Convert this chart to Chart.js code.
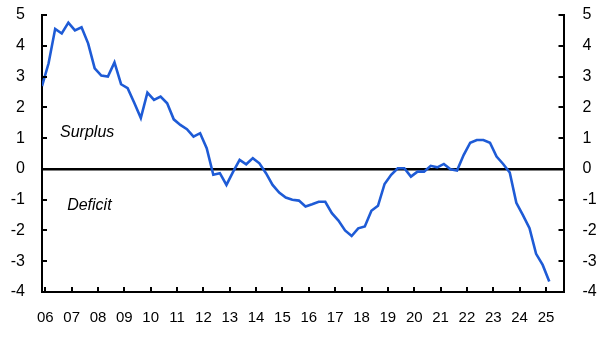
<!DOCTYPE html>
<html><head><meta charset="utf-8">
<script src="https://cdn.jsdelivr.net/npm/chart.js@4/dist/chart.umd.min.js"></script>
<style>html,body{margin:0;padding:0;background:#fff}canvas{display:block}</style>
</head><body>
<canvas id="c" width="612" height="340"></canvas>
<script>
// Quarterly observations, first = 2005 Q4, last = 2025 Q1
const firstQuarterYear = 2005, firstQuarterNum = 4;
const values = [
  2.69, 3.43, 4.55, 4.40, 4.75, 4.50, 4.60, 4.08, 3.27, 3.03,
  3.00, 3.46, 2.75, 2.62, 2.15, 1.65, 2.48, 2.24, 2.35, 2.13,
  1.61, 1.43, 1.29, 1.05, 1.16, 0.67, -0.19, -0.14, -0.52, -0.10,
  0.29, 0.15, 0.35, 0.18, -0.14, -0.52, -0.77, -0.93, -1.00, -1.03,
  -1.22, -1.15, -1.07, -1.07, -1.44, -1.68, -2.00, -2.18, -1.93, -1.87,
  -1.36, -1.20, -0.49, -0.19, 0.02, 0.02, -0.25, -0.09, -0.09, 0.10,
  0.05, 0.16, -0.01, -0.05, 0.45, 0.85, 0.94, 0.94, 0.85, 0.40,
  0.16, -0.12, -1.10, -1.50, -1.93, -2.76, -3.12, -3.66
];
const yearTicks = [2006,2007,2008,2009,2010,2011,2012,2013,2014,2015,2016,2017,2018,2019,2020,2021,2022,2023,2024,2025];
const yTicks = [5,4,3,2,1,0,-1,-2,-3,-4];
const labels = [
  {text:'Surplus', x:2006.56, y:1.17},
  {text:'Deficit', x:2006.83, y:-1.2}
];

// quarter -> decimal year at mid-quarter
const points = values.map((v,i)=>{
  const q = firstQuarterNum - 1 + i;
  const yr = firstQuarterYear + Math.floor(q/4);
  const qi = q % 4;
  return {x: yr + qi*0.25 + 0.125, y: v};
});

const FONT = "'Liberation Sans', Arial, sans-serif";

const inwardTicks = {
  id:'inwardTicks',
  afterDraw(chart){
    const {ctx, chartArea:a, scales} = chart;
    ctx.save();
    ctx.strokeStyle = '#000';
    ctx.lineWidth = 2;
    const L = 5;
    scales.y.ticks.forEach(t=>{
      const p = Math.round(scales.y.getPixelForValue(t.value));
      ctx.beginPath(); ctx.moveTo(a.left, p); ctx.lineTo(a.left+L, p); ctx.stroke();
      ctx.beginPath(); ctx.moveTo(a.right, p); ctx.lineTo(a.right-L, p); ctx.stroke();
    });
    scales.x.ticks.forEach(t=>{
      const p = Math.round(scales.x.getPixelForValue(t.value));
      ctx.beginPath(); ctx.moveTo(p, a.bottom); ctx.lineTo(p, a.bottom-L); ctx.stroke();
    });
    ctx.fillStyle = '#000';
    ctx.font = "italic 16px " + FONT;
    ctx.textAlign = 'left';
    ctx.textBaseline = 'middle';
    labels.forEach(l=>{
      ctx.fillText(l.text, scales.x.getPixelForValue(l.x), scales.y.getPixelForValue(l.y));
    });
    ctx.restore();
  }
};

const noPad = s => { s.paddingTop = 0; s.paddingBottom = 0; };

new Chart(document.getElementById('c'), {
  type:'line',
  data:{datasets:[{
    data: points,
    borderColor:'#1e5bd6',
    borderWidth:2.6,
    pointRadius:0,
    tension:0,
    fill:false
  }]},
  options:{
    responsive:false,
    animation:false,
    devicePixelRatio:1,
    layout:{padding:{top:15,left:0,right:0,bottom:0}},
    plugins:{legend:{display:false},tooltip:{enabled:false}},
    scales:{
      x:{
        type:'linear',
        min:2005.875, max:2025.665,
        afterBuildTicks:s=>{ s.ticks = yearTicks.map(v=>({value:v})); },
        afterFit:s=>{ s.height = 48; s.paddingLeft = 0; s.paddingRight = 0; },
        grid:{display:false, drawTicks:false},
        border:{display:true, color:'#000', width:2},
        ticks:{
          padding:17, color:'#000', maxRotation:0, autoSkip:false,
          font:{family:FONT, size:15},
          callback:v=>String(v%100).padStart(2,'0')
        }
      },
      y:{
        position:'left',
        min:-4, max:5,
        afterBuildTicks:s=>{ s.ticks = yTicks.map(v=>({value:v})); },
        afterFit:s=>{ s.width = 42; noPad(s); },
        grid:{
          drawTicks:false,
          color:c=> (c.tick && c.tick.value===0) ? '#000' : 'rgba(0,0,0,0)',
          lineWidth:c=> (c.tick && c.tick.value===0) ? 2.5 : 0
        },
        border:{display:true, color:'#000', width:2},
        ticks:{padding:17, color:'#000', font:{family:FONT, size:16}}
      },
      y2:{
        position:'right',
        min:-4, max:5,
        afterBuildTicks:s=>{ s.ticks = yTicks.map(v=>({value:v})); },
        afterFit:s=>{ s.width = 612-563.5; noPad(s); },
        grid:{display:false, drawTicks:false},
        border:{display:true, color:'#000', width:2},
        ticks:{padding:19, color:'#000', font:{family:FONT, size:16}}
      }
    }
  },
  plugins:[inwardTicks]
});
</script>
</body></html>
